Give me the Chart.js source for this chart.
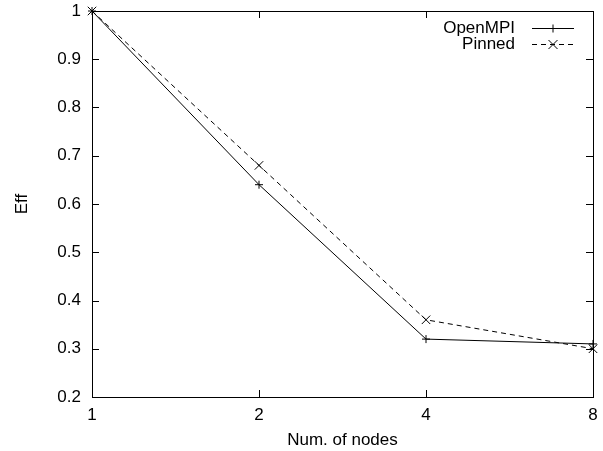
<!DOCTYPE html>
<html><head><meta charset="utf-8">
<script src="https://cdn.jsdelivr.net/npm/chart.js@4/dist/chart.umd.min.js"></script>
<style>html,body{margin:0;padding:0;background:#fff}</style>
</head><body>
<canvas id="c" width="603" height="451" style="display:block;width:603px;height:451px"></canvas>
<script>
const nodes = ['1', '2', '4', '8'];
const openmpi = [1, 0.64, 0.32, 0.31];
const pinned = [1, 0.68, 0.36, 0.30];
const seriesNames = ['OpenMPI', 'Pinned'];
const xTitle = 'Num. of nodes';
const yTitle = 'Eff';

const FONT = '"Liberation Sans", Arial, Helvetica, sans-serif';
const FS = 17;

function drawMarker(ctx, style, x, y) {
  ctx.beginPath();
  if (style === 'cross') {
    const r = 4;
    ctx.moveTo(x - r, y); ctx.lineTo(x + r, y);
    ctx.moveTo(x, y - r); ctx.lineTo(x, y + r);
  } else {
    const r = 4.5;
    ctx.moveTo(x - r, y - r); ctx.lineTo(x + r, y + r);
    ctx.moveTo(x - r, y + r); ctx.lineTo(x + r, y - r);
  }
  ctx.setLineDash([]);
  ctx.stroke();
}

const framePlugin = {
  id: 'frame',
  beforeDatasetsDraw(chart) {
    const { ctx, chartArea: a, scales: { x, y } } = chart;
    const s = v => Math.round(v) + 0.5;
    ctx.save();
    ctx.strokeStyle = '#000';
    ctx.lineWidth = 1;
    ctx.setLineDash([]);
    ctx.strokeRect(s(a.left), s(a.top), Math.round(a.right) - Math.round(a.left), Math.round(a.bottom) - Math.round(a.top));
    const L = 7;
    ctx.beginPath();
    y.ticks.forEach((t, i) => {
      const py = s(y.getPixelForTick(i));
      ctx.moveTo(a.left, py); ctx.lineTo(a.left + L, py);
      ctx.moveTo(a.right, py); ctx.lineTo(a.right - L, py);
    });
    x.ticks.forEach((t, i) => {
      const px = s(x.getPixelForTick(i));
      ctx.moveTo(px, a.bottom); ctx.lineTo(px, a.bottom - L);
      ctx.moveTo(px, a.top); ctx.lineTo(px, a.top + L);
    });
    ctx.stroke();
    ctx.restore();
  },
  afterDraw(chart) {
    const { ctx } = chart;
    ctx.save();
    ctx.font = FS + 'px ' + FONT;
    ctx.textAlign = 'right';
    ctx.textBaseline = 'middle';
    ctx.fillStyle = '#000';
    ctx.strokeStyle = '#000';
    ctx.lineWidth = 1;
    const rows = [28.5, 44.5];
    chart.data.datasets.forEach((ds, i) => {
      const yy = rows[i];
      ctx.fillText(ds.label, 515, yy);
      ctx.setLineDash(ds.borderDash || []);
      ctx.beginPath();
      ctx.moveTo(532, yy); ctx.lineTo(574, yy);
      ctx.stroke();
      drawMarker(ctx, ds.pointStyle, 553, yy);
    });
    ctx.restore();
  }
};

new Chart(document.getElementById('c'), {
  type: 'line',
  data: {
    labels: nodes,
    datasets: [
      {
        label: seriesNames[0], data: openmpi,
        borderColor: '#000', backgroundColor: '#000', borderWidth: 1,
        pointStyle: 'cross', pointRadius: 4, pointBorderWidth: 1, pointBorderColor: '#000',
        tension: 0, fill: false, clip: false
      },
      {
        label: seriesNames[1], data: pinned,
        borderColor: '#000', backgroundColor: '#000', borderWidth: 1, borderDash: [5, 4],
        pointStyle: 'crossRot', pointRadius: 6, pointBorderWidth: 1, pointBorderColor: '#000',
        tension: 0, fill: false, clip: false
      }
    ]
  },
  options: {
    responsive: false,
    animation: false,
    devicePixelRatio: 1,
    layout: { padding: { top: 11, right: 10, left: 0, bottom: 0 } },
    plugins: { legend: { display: false }, tooltip: { enabled: false } },
    scales: {
      x: {
        type: 'category', offset: false,
        grid: { display: false, drawTicks: false },
        border: { display: false },
        ticks: { color: '#000', font: { family: FONT, size: FS }, padding: 8, maxRotation: 0 },
        title: { display: true, text: xTitle, color: '#000', font: { family: FONT, size: FS }, padding: { top: 0, bottom: 0 } },
        afterFit(s) { s.height = 54; s.paddingLeft = 0; s.paddingRight = 0; }
      },
      y: {
        type: 'linear', min: 0.2, max: 1,
        grid: { display: false, drawTicks: false },
        border: { display: false },
        ticks: {
          stepSize: 0.1, color: '#000', font: { family: FONT, size: FS }, padding: 11,
          callback: v => String(Number(v.toFixed(1)))
        },
        title: { display: true, text: yTitle, color: '#000', font: { family: FONT, size: FS }, padding: { top: 12, bottom: 0 } },
        afterFit(s) { s.width = 92; s.paddingTop = 0; s.paddingBottom = 0; }
      }
    }
  },
  plugins: [framePlugin]
});
</script>
</body></html>
